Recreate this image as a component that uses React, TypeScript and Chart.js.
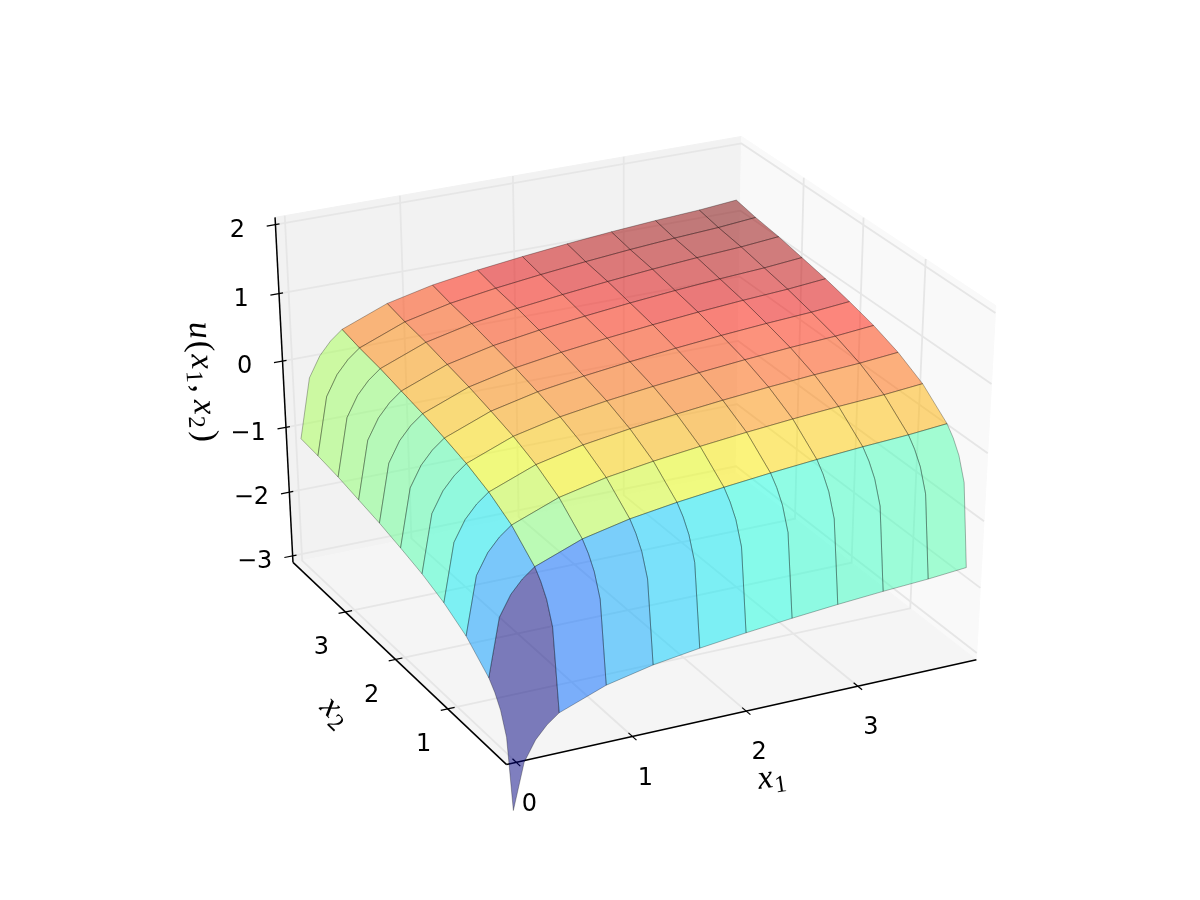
import React, { useEffect, useRef } from "react";
import { Chart, registerables } from "chart.js";
Chart.register(...registerables);

const gridNodes = [0.01, 0.11, 0.21, 0.31, 0.415, 0.82, 1.225, 1.63, 2.035, 2.44, 2.845, 3.25, 3.655, 4.0];
const cellEdges = [0, 4, 5, 6, 7, 8, 9, 10, 11, 12, 13];
const x1Ticks = [0, 1, 2, 3];
const x2Ticks = [1, 2, 3];
const zTicks = [-3, -2, -1, 0, 1, 2];

const uRow0 = [-3.92, -2.88, -2.55, -2.36, -2.22, -1.9, -1.7, -1.56, -1.46, -1.37, -1.3, -1.23, -1.18, -1.15];
const uRow1 = [-3.22, -2.02, -1.69, -1.5, -1.36, -1.04, -0.84, -0.7, -0.6, -0.51, -0.44, -0.37, -0.32, -0.26];
const uRow2 = [-2.92, -1.72, -1.39, -1.2, -1.06, -0.74, -0.54, -0.4, -0.3, -0.21, -0.14, -0.07, -0.02, 0.04];
const uRow3 = [-2.73, -1.53, -1.2, -1.01, -0.87, -0.55, -0.35, -0.21, -0.11, -0.02, 0.05, 0.12, 0.17, 0.23];
const uRow4 = [-2.59, -1.39, -1.06, -0.87, -0.73, -0.41, -0.21, -0.07, 0.03, 0.12, 0.19, 0.26, 0.31, 0.37];
const uRow5 = [-2.33, -1.13, -0.8, -0.61, -0.47, -0.15, 0.05, 0.19, 0.29, 0.38, 0.45, 0.52, 0.57, 0.63];
const uRow6 = [-2.18, -0.98, -0.65, -0.46, -0.32, 0, 0.2, 0.34, 0.44, 0.53, 0.6, 0.67, 0.72, 0.78];
const uRow7 = [-2.08, -0.88, -0.55, -0.36, -0.22, 0.1, 0.3, 0.44, 0.54, 0.63, 0.7, 0.77, 0.82, 0.88];
const uRow8 = [-2.0, -0.8, -0.47, -0.28, -0.14, 0.18, 0.38, 0.52, 0.62, 0.71, 0.78, 0.85, 0.9, 0.96];
const uRow9 = [-1.93, -0.73, -0.4, -0.21, -0.07, 0.25, 0.45, 0.59, 0.69, 0.78, 0.85, 0.92, 0.97, 1.03];
const uRow10 = [-1.87, -0.67, -0.34, -0.15, -0.01, 0.31, 0.51, 0.65, 0.75, 0.84, 0.91, 0.98, 1.03, 1.09];
const uRow11 = [-1.82, -0.62, -0.29, -0.1, 0.04, 0.36, 0.56, 0.7, 0.8, 0.89, 0.96, 1.03, 1.08, 1.14];
const uRow12 = [-1.78, -0.58, -0.25, -0.06, 0.08, 0.4, 0.6, 0.74, 0.84, 0.93, 1.0, 1.07, 1.12, 1.18];
const uRow13 = [-1.73, -0.53, -0.2, -0.01, 0.13, 0.45, 0.65, 0.79, 0.89, 0.98, 1.05, 1.12, 1.17, 1.23];
const uTable = [uRow0, uRow1, uRow2, uRow3, uRow4, uRow5, uRow6, uRow7, uRow8, uRow9, uRow10, uRow11, uRow12, uRow13];

const elev = (30.7 * Math.PI) / 180, azim = (-116.5 * Math.PI) / 180, dist = 10;
const SX = 5020, SY = 3900, CX = 628, CY = 440;
const n = [Math.cos(azim) * Math.cos(elev), Math.sin(azim) * Math.cos(elev), Math.sin(elev)];
const nl = Math.hypot(-n[1], n[0]);
const uv = [-n[1] / nl, n[0] / nl, 0];
const vv = [n[1] * uv[2] - n[2] * uv[1], n[2] * uv[0] - n[0] * uv[2], n[0] * uv[1] - n[1] * uv[0]];
const dot = (a: number[], b: number[]) => a[0] * b[0] + a[1] * b[1] + a[2] * b[2];
const rel = (x1: number, x2: number, z: number) => [x1 / 4 - 0.5, x2 / 4 - 0.5, (z + 3) / 5 - 0.5];
function project(x1: number, x2: number, z: number) {
  const p = rel(x1, x2, z);
  const w = dist - dot(n, p);
  return { x: dot(uv, p) / w, y: dot(vv, p) / w };
}
const depth = (x1: number, x2: number, z: number) => dist - dot(n, rel(x1, x2, z));

const B0 = -4 / 48, B1 = 4 + 4 / 48, Z0 = -3 - 5 / 48, Z1 = 2 + 5 / 48;

function jet(t: number) {
  const seg = (pts: number[][]) => {
    for (let i = 1; i < pts.length; i++) if (t <= pts[i][0]) {
      const [a, va] = pts[i - 1], [b, vb] = pts[i];
      return va + ((vb - va) * (t - a)) / (b - a);
    }
    return pts[pts.length - 1][1];
  };
  const r = seg([[0, 0], [0.35, 0], [0.66, 1], [0.89, 1], [1, 0.5]]);
  const g = seg([[0, 0], [0.125, 0], [0.375, 1], [0.64, 1], [0.91, 0], [1, 0]]);
  const b = seg([[0, 0.5], [0.11, 1], [0.34, 1], [0.65, 0], [1, 0]]);
  return `rgba(${Math.round(r * 255)},${Math.round(g * 255)},${Math.round(b * 255)},0.5)`;
}

function buildDatasets() {
  const list: any[] = [];
  const line = (pts: number[][], color: string, width: number) =>
    list.push({ data: pts.map((p) => project(p[0], p[1], p[2])), showLine: true, borderColor: color, borderWidth: width, pointRadius: 0, fill: false, tension: 0, borderCapStyle: "butt" });
  const pane = (pts: number[][], color: string) =>
    list.push({ data: [...pts, pts[0]].map((p) => project(p[0], p[1], p[2])), showLine: true, borderColor: color, backgroundColor: color, borderWidth: 1, pointRadius: 0, fill: "shape", tension: 0 });
  pane([[B0, B1, Z0], [B1, B1, Z0], [B1, B1, Z1], [B0, B1, Z1]], "rgb(242,242,242)");
  pane([[B1, B0, Z0], [B1, B1, Z0], [B1, B1, Z1], [B1, B0, Z1]], "rgb(249,249,249)");
  pane([[B0, B0, Z0], [B1, B0, Z0], [B1, B1, Z0], [B0, B1, Z0]], "rgb(245,245,245)");
  const GC = "rgb(230,230,230)", GW = 1.8;
  for (const t of x1Ticks) line([[t, B0, Z0], [t, B1, Z0], [t, B1, Z1]], GC, GW);
  for (const t of x2Ticks) line([[B0, t, Z0], [B1, t, Z0], [B1, t, Z1]], GC, GW);
  for (const t of zTicks) line([[B0, B1, t], [B1, B1, t], [B1, B0, t]], GC, GW);
  const K = "#000";
  line([[B0, B0, Z0], [B1, B0, Z0]], K, 1.5);
  line([[B0, B0, Z0], [B0, B1, Z0]], K, 1.5);
  line([[B0, B1, Z0], [B0, B1, Z1]], K, 1.5);
  for (const t of x1Ticks) line([[t, B0 - 0.07, Z0], [t, B0 + 0.07, Z0]], K, 1.2);
  for (const t of x2Ticks) line([[B0 - 0.06, t, Z0], [B0 + 0.06, t, Z0]], K, 1.2);
  for (const t of zTicks) line([[B0 - 0.075, B1, t], [B0 + 0.035, B1, t]], K, 1.2);

  const facets: any[] = [];
  const avg = (v: number[]) => v.reduce((s, x) => s + x, 0) / v.length;
  for (let a = 0; a + 1 < cellEdges.length; a++) for (let b = 0; b + 1 < cellEdges.length; b++) {
    const i0 = cellEdges[a], i1 = cellEdges[a + 1], j0 = cellEdges[b], j1 = cellEdges[b + 1];
    const idx: number[][] = [];
    const sides: number[] = [];
    const range = (p: number, q: number) => { const r: number[] = []; for (let k = p; k <= q; k++) r.push(k); return r; };
    sides.push(avg(range(i0, i1).map((i) => uTable[i][j0])), avg(range(i0, i1).map((i) => uTable[i][j1])), avg(range(j0, j1).map((j) => uTable[i0][j])), avg(range(j0, j1).map((j) => uTable[i1][j])));
    for (let i = i0; i < i1; i++) idx.push([i, j0]);
    for (let j = j0; j < j1; j++) idx.push([i1, j]);
    for (let i = i1; i > i0; i--) idx.push([i, j1]);
    for (let j = j1; j > j0; j--) idx.push([i0, j]);
    const pts = idx.map(([i, j]) => [gridNodes[i], gridNodes[j], uTable[i][j]]);
    const mean = avg(sides);
    const d = pts.reduce((s, p) => s + depth(p[0], p[1], p[2]), 0) / pts.length;
    facets.push({ pts, mean, d });
  }
  const lo = Math.min(...facets.map((f) => f.mean)), hi = Math.max(...facets.map((f) => f.mean));
  facets.sort((p, q) => q.d - p.d);
  for (const f of facets) {
    const t = (f.mean - lo) / (hi - lo);
    list.push({ data: [...f.pts, f.pts[0]].map((p: number[]) => project(p[0], p[1], p[2])), showLine: true, backgroundColor: jet(t), borderColor: "rgba(0,0,0,0.42)", borderWidth: 0.7, pointRadius: 0, fill: "shape", tension: 0 });
  }
  return list.reverse();
}

type Run = { t: string; it?: boolean; sub?: boolean; gap?: number };
const axisTitles: { runs: Run[]; at: number[]; rot: number }[] = [
  { runs: [{ t: "x", it: true, gap: 1 }, { t: "1", sub: true }], at: [772, 781], rot: -8 },
  { runs: [{ t: "x", it: true, gap: 1 }, { t: "2", sub: true }], at: [333, 714], rot: 44 },
  { runs: [{ t: "u", it: true, gap: 2 }, { t: "(", gap: 2 }, { t: "x", it: true, gap: 1 }, { t: "1", sub: true, gap: 2 }, { t: ",", gap: 7 }, { t: "x", it: true, gap: 1 }, { t: "2", sub: true, gap: 3 }, { t: ")" }], at: [199, 382], rot: 87 },
];

const labelPlugin = {
  id: "labels3d",
  afterDatasetsDraw(chart: any) {
    const { ctx, scales } = chart;
    const px = (p: { x: number; y: number }) => [scales.x.getPixelForValue(p.x), scales.y.getPixelForValue(p.y)];
    ctx.save();
    ctx.fillStyle = "#000";
    ctx.font = "24px 'DejaVu Sans'";
    ctx.textAlign = "center";
    ctx.textBaseline = "middle";
    const put = (s: string, p: number[], dx: number, dy: number) => ctx.fillText(s, p[0] + dx, p[1] + dy);
    for (const t of x1Ticks) put(String(t), px(project(t, B0, Z0)), 13, 42);
    for (const t of x2Ticks) put(String(t), px(project(B0, t, Z0)), -24, 36);
    for (const t of zTicks) put(String(t).replace("-", "\u2212"), px(project(B0, B1, t)), -38, 6);
    for (const a of axisTitles) {
      ctx.save();
      ctx.translate(a.at[0], a.at[1]);
      ctx.rotate((a.rot * Math.PI) / 180);
      const fnt = (r: Run) => r.sub ? "24px 'Liberation Serif'" : r.it ? "italic 34px 'Liberation Serif'" : "34px 'Liberation Serif'";
      let w = 0;
      for (const r of a.runs) { ctx.font = fnt(r); w += ctx.measureText(r.t).width + (r.gap ?? 0); }
      let cur = -w / 2;
      ctx.textAlign = "left";
      ctx.textBaseline = "alphabetic";
      for (const r of a.runs) {
        ctx.font = fnt(r);
        ctx.fillText(r.t, cur, r.sub ? 12 : 6);
        cur += ctx.measureText(r.t).width + (r.gap ?? 0);
      }
      ctx.restore();
    }
    ctx.restore();
  },
};

export default function App() {
  const ref = useRef<HTMLCanvasElement>(null);
  useEffect(() => {
    document.body.style.margin = "0";
    const chart = new Chart(ref.current!, {
      type: "scatter",
      data: { datasets: buildDatasets() },
      options: {
        animation: false, responsive: false,
        layout: { padding: 0 },
        plugins: { legend: { display: false }, tooltip: { enabled: false }, title: { display: false } },
        scales: {
          x: { type: "linear", display: false, min: -CX / SX, max: (1200 - CX) / SX },
          y: { type: "linear", display: false, min: -(900 - CY) / SY, max: CY / SY },
        },
      },
      plugins: [labelPlugin],
    } as any);
    return () => chart.destroy();
  }, []);
  return <canvas ref={ref} width={1200} height={900} style={{ display: "block" }} />;
}
